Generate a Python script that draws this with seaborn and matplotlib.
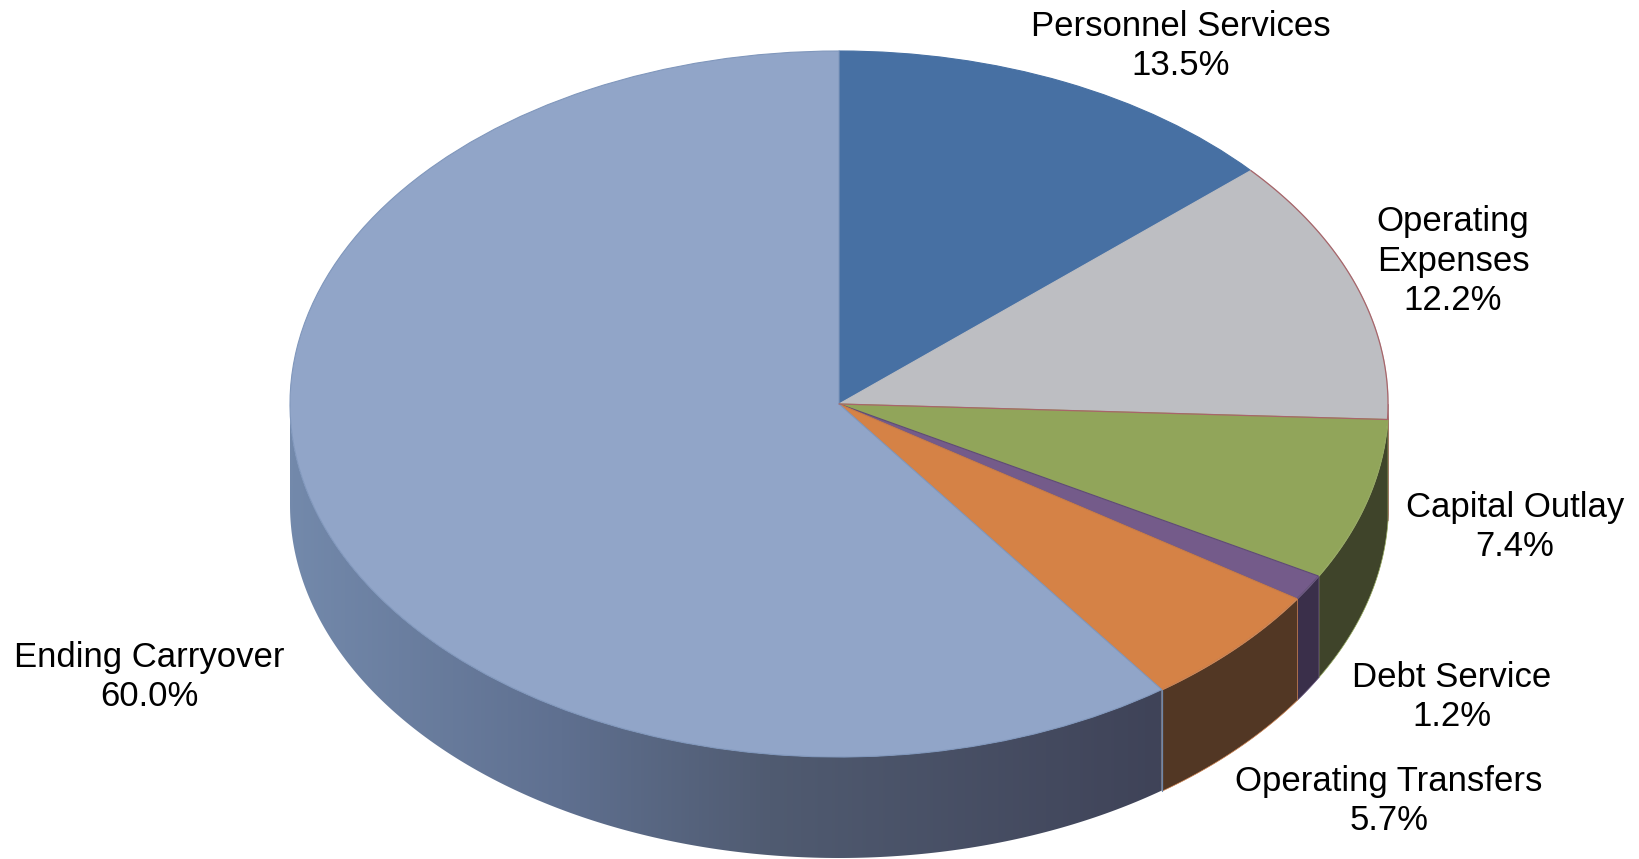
import numpy as np
import matplotlib
matplotlib.use("Agg")
import matplotlib.pyplot as plt
import seaborn as sns
from matplotlib.colors import LinearSegmentedColormap

categories = ["Personnel Services", "Operating\nExpenses", "Capital Outlay",
              "Debt Service", "Operating Transfers", "Ending Carryover"]
shares = [13.5, 12.2, 7.4, 1.2, 5.7, 60.0]

top_colors = ["#4770a3", "#bdbec2", "#91a55a", "#745b8a", "#d58246", "#91a5c8"]
edge_colors = ["#4770a3", "#bdbec2", "#91a55a", "#5f4b75", "#c97c48", "#8097bc"]
wall_colors = ["#2b4464", "#74757a", "#3f442a", "#3a2f4a", "#523724", None]
label_px = [(1181, 46), (1453, 261), (1515, 527), (1452, 697), (1389, 801), (149, 677)]

W, H, CX, CY, RX, RY, DEPTH = 1640, 859, 839, 404, 549, 353, 101

sns.set_theme(style="white")
plt.rcParams["font.family"] = ["Liberation Sans", "DejaVu Sans"]

fig = plt.figure(figsize=(W / 100, H / 100), dpi=100, facecolor="white")
ax = fig.add_axes([0, 0, 1, 1])
palette = sns.color_palette(top_colors)

d = DEPTH / RY
edges = np.concatenate([[0], np.cumsum(shares)]) / sum(shares) * 360

# side wall of the disc
ramp = LinearSegmentedColormap.from_list(
    "wall", [(0.0, "#7389ab"), (0.31, "#5f7090"), (0.55, "#505b71"), (1.0, "#3f4358")])
for i, (a0, a1) in enumerate(zip(edges[:-1], edges[1:])):
    lo, hi = max(a0, 90), min(a1, 270)
    if hi <= lo:
        continue
    a = np.radians(np.linspace(lo, hi, 200))
    xs, ys = np.sin(a), np.cos(a)
    if wall_colors[i] is None:
        poly = ax.fill_between(xs, ys, ys - d, facecolor="none", edgecolor="none")
        img = ax.imshow(np.linspace(0, 1, 512)[None, :], cmap=ramp, aspect="auto",
                        extent=[xs.min(), xs.max(), ys.min() - d, ys.max()], zorder=1)
        img.set_clip_path(poly.get_paths()[0], transform=ax.transData)
        ax.plot([xs[0], xs[0]], [ys[0], ys[0] - d], color="#6f86a8", lw=0.9, zorder=1.5)
    else:
        ec = "#a8656a" if i == 1 else edge_colors[i]
        ax.fill_between(xs, ys, ys - d, facecolor=wall_colors[i],
                        edgecolor=ec, lw=0.5, zorder=1)

# top face of the disc
wedges, _ = ax.pie(shares, startangle=90, counterclock=False, colors=palette, radius=1)
for w, ec in zip(wedges, edge_colors):
    w.set_edgecolor(ec)
    w.set_linewidth(0.8)
    w.set_zorder(2)

# thin reddish outline on the rim and lower side of the grey slice only
rim = np.radians(np.linspace(edges[1], edges[2], 100))
ax.plot(np.r_[np.sin(rim), 0], np.r_[np.cos(rim), 0], color="#a8656a", lw=0.9, zorder=3)

ax.set_aspect("auto")
ax.set_xlim(-CX / RX, (W - CX) / RX)
ax.set_ylim(-(H - CY) / RY, CY / RY)
ax.axis("off")

for cat, share, (px, py) in zip(categories, shares, label_px):
    fig.text(px / W, 1 - py / H, f"{cat}\n{share:.1f}%", ha="center", va="center",
             fontsize=25, color="black", linespacing=1.25)

fig.savefig("out.png", dpi=100)
